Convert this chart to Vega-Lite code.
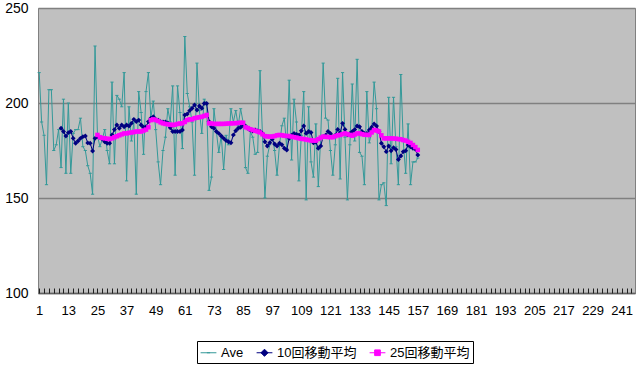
{
"$schema":"https://vega.github.io/schema/vega-lite/v6.json",
"width":597,"height":285,
"autosize":{"type":"none"},
"padding":{"left":38,"top":8,"right":5,"bottom":76},
"background":"white",
"config":{"view":{"fill":"#C0C0C0","stroke":"#808080","strokeWidth":1},"font":"Liberation Sans, Arial, Noto Sans CJK JP"},
"data":{"values":[
{"i":1,"a":216},{"i":2,"a":190},{"i":3,"a":183},{"i":4,"a":157},{"i":5,"a":207},{"i":6,"a":207},{"i":7,"a":175},{"i":8,"a":178},{"i":9,"a":186},
{"i":10,"a":166,"b":186.7},{"i":11,"a":202,"b":185},{"i":12,"a":163,"b":182.6},{"i":13,"a":200,"b":184.4},{"i":14,"a":163,"b":185},{"i":15,"a":184,"b":181.4},{"i":16,"a":186,"b":178.8},{"i":17,"a":186,"b":180},{"i":18,"a":192,"b":181.4},{"i":19,"a":177,"b":182.3},{"i":20,"a":175,"b":182.6},{"i":21,"a":167,"b":179},{"i":22,"a":163,"b":178.8},{"i":23,"a":152,"b":174.7},{"i":24,"a":230,"b":181.4},
{"i":25,"a":183,"b":182.3,"c":183.2},{"i":26,"a":177,"b":182,"c":182},{"i":27,"a":181,"b":181,"c":181.6},{"i":28,"a":186,"b":179.6,"c":181.4},{"i":29,"a":175,"b":178.8,"c":181.2},{"i":30,"a":168,"b":178.8,"c":181},
{"i":31,"a":211,"b":183.2,"c":181.4},{"i":32,"a":168,"b":186,"c":182},{"i":33,"a":204,"b":188.4,"c":182.5},{"i":34,"a":202,"b":186.7,"c":183},{"i":35,"a":198,"b":188.4,"c":183.5},{"i":36,"a":216,"b":187.5,"c":184},{"i":37,"a":159,"b":188.4,"c":184},{"i":38,"a":198,"b":187.9,"c":184.3},{"i":39,"a":180,"b":189.3,"c":184.5},{"i":40,"a":190,"b":191.4,"c":184.7},
{"i":41,"a":152,"b":190.2,"c":185},{"i":42,"a":206,"b":191,"c":185},{"i":43,"a":195,"b":188.4,"c":185},{"i":44,"a":173,"b":187.2,"c":185.5},{"i":45,"a":206,"b":187.5,"c":186},{"i":46,"a":216,"b":190.2,"c":187.2},{"i":47,"a":192,"b":192,"c":191},{"i":48,"a":201,"b":192.8,"c":191.4},{"i":49,"a":186,"b":191.4,"c":191},{"i":50,"a":169,"b":191,"c":190.5},
{"i":51,"a":157,"b":190.2,"c":189.8},{"i":52,"a":175,"b":190,"c":189.3},{"i":53,"a":182,"b":190,"c":189},{"i":54,"a":197,"b":189.5,"c":188.8},{"i":55,"a":190,"b":187,"c":188.6},{"i":56,"a":209,"b":185,"c":188.4},{"i":57,"a":162,"b":185,"c":188.6},{"i":58,"a":209,"b":185,"c":189},{"i":59,"a":195,"b":185,"c":189.2},{"i":60,"a":176,"b":185.8,"c":189.3},
{"i":61,"a":235,"b":193.7,"c":190},{"i":62,"a":205,"b":194.2,"c":191},{"i":63,"a":198,"b":196,"c":191.4},{"i":64,"a":190,"b":197.2,"c":191.4},{"i":65,"a":162,"b":199,"c":192},{"i":66,"a":221,"b":196.3,"c":192.3},{"i":67,"a":196,"b":198.4,"c":192.5},{"i":68,"a":184,"b":197.2,"c":192.8},{"i":69,"a":202,"b":199.8,"c":193.2},{"i":70,"a":199,"b":199.8,"c":193.7},
{"i":71,"a":154,"b":190.2,"c":189.3},{"i":72,"a":161,"b":187.5,"c":189.2},{"i":73,"a":197,"b":186.7,"c":189},{"i":74,"a":185,"b":185,"c":189},{"i":75,"a":174,"b":184,"c":189},{"i":76,"a":183,"b":182.6,"c":189},{"i":77,"a":165,"b":181.4,"c":189},{"i":78,"a":183,"b":180.2,"c":189.1},{"i":79,"a":178,"b":179.6,"c":189.2},{"i":80,"a":197,"b":179.1,"c":189.3},
{"i":81,"a":190,"b":183.2,"c":189.3},{"i":82,"a":196,"b":185.4,"c":189.4},{"i":83,"a":188,"b":186.7,"c":189.5},{"i":84,"a":197,"b":187.2,"c":189.6},{"i":85,"a":190,"b":188.4,"c":189.6},{"i":86,"a":166,"b":187.9,"c":187.2},{"i":87,"a":163,"b":186.7,"c":186.8},{"i":88,"a":185,"b":185.8,"c":186.2},{"i":89,"a":182,"b":185.3,"c":185.8},{"i":90,"a":173,"b":185.8,"c":185.4},
{"i":91,"a":174,"b":185.3,"c":185},{"i":92,"a":217,"b":185,"c":184.5},{"i":93,"a":183,"b":184,"c":183.5},{"i":94,"a":150,"b":179.6,"c":182.6},{"i":95,"a":172,"b":177.4,"c":182.4},{"i":96,"a":178,"b":179.1,"c":182.3},{"i":97,"a":183,"b":180.9,"c":182.3},{"i":98,"a":175,"b":178.4,"c":182.6},{"i":99,"a":162,"b":177.4,"c":183},{"i":100,"a":178,"b":178.8,"c":183.2},
{"i":101,"a":188,"b":178,"c":183},{"i":102,"a":192,"b":176.2,"c":182.8},{"i":103,"a":176,"b":175.3,"c":182.6},{"i":104,"a":212,"b":181.4,"c":182.6},{"i":105,"a":170,"b":183,"c":182.3},{"i":106,"a":202,"b":184,"c":182},{"i":107,"a":190,"b":183.5,"c":181.8},{"i":108,"a":159,"b":183,"c":181.4},{"i":109,"a":183,"b":185.4,"c":181.2},{"i":110,"a":206,"b":187.9,"c":181},
{"i":111,"a":149,"b":184,"c":180.8},{"i":112,"a":198,"b":185,"c":180.5},{"i":113,"a":169,"b":184.5,"c":180.3},{"i":114,"a":161,"b":179.1,"c":180.2},{"i":115,"a":189,"b":179.5,"c":180.2},{"i":116,"a":156,"b":176.2,"c":181},{"i":117,"a":182,"b":177.4,"c":181.8},{"i":118,"a":221,"b":182.3,"c":182.3},{"i":119,"a":192,"b":183,"c":182.2},{"i":120,"a":191,"b":185,"c":182.1},
{"i":121,"a":175,"b":184,"c":182},{"i":122,"a":162,"b":182.3,"c":182},{"i":123,"a":178,"b":183,"c":182.5},{"i":124,"a":213,"b":186.1,"c":183},{"i":125,"a":160,"b":184.4,"c":183.2},{"i":126,"a":216,"b":189.3,"c":183.6},{"i":127,"a":182,"b":186.1,"c":184},{"i":128,"a":149,"b":183.2,"c":183.6},{"i":129,"a":178,"b":184,"c":183.2},{"i":130,"a":210,"b":185,"c":182.8},
{"i":131,"a":180,"b":186,"c":183.4},{"i":132,"a":223,"b":187.9,"c":184},{"i":133,"a":174,"b":187.5,"c":184},{"i":134,"a":172,"b":185,"c":183.6},{"i":135,"a":157,"b":184,"c":183.3},{"i":136,"a":206,"b":184,"c":183.2},{"i":137,"a":179,"b":185.8,"c":183.2},{"i":138,"a":185,"b":187.2,"c":184.5},{"i":139,"a":211,"b":189,"c":185.8},{"i":140,"a":197,"b":187.9,"c":185.5},
{"i":141,"a":149,"b":185,"c":185},{"i":142,"a":157,"b":178.8,"c":183},{"i":143,"a":158,"b":177,"c":181.4},{"i":144,"a":146,"b":174.4,"c":181.4},{"i":145,"a":203,"b":177.4,"c":181.4},{"i":146,"a":168,"b":174.9,"c":181.4},{"i":147,"a":203,"b":176.5,"c":181.3},{"i":148,"a":177,"b":175.5,"c":181.2},{"i":149,"a":157,"b":170.3,"c":181},{"i":150,"a":215,"b":172.1,"c":180.9},
{"i":151,"a":180,"b":174.4,"c":180.5},{"i":152,"a":163,"b":174.9,"c":180.2},{"i":153,"a":189,"b":177.9,"c":179.6},{"i":154,"a":157,"b":177,"c":179},{"i":155,"a":169,"b":176.2,"c":177.9},{"i":156,"a":169,"b":175.6,"c":176.8},{"i":157,"a":171,"b":172.6,"c":175.3}
]},
"transform":[{"fold":["a","b","c"],"as":["s","v"]},{"filter":"isValid(datum.v)"}],
"encoding":{
"x":{"field":"i","type":"quantitative","scale":{"domain":[0.5,246.5],"nice":false,"zero":false},
"axis":{"title":null,"grid":false,"values":[1,13,25,37,49,61,73,85,97,109,121,133,145,157,169,181,193,205,217,229,241],
"labelOverlap":false,"labelFlush":false,"ticks":false,"domainColor":"#606060","domainWidth":1.5,"labelFontSize":13,"labelColor":"black","labelPadding":11,"labelFont":"Liberation Sans"}},
"y":{"field":"v","type":"quantitative","scale":{"domain":[100,250],"nice":false,"zero":false},
"axis":{"title":null,"values":[100,150,200,250],"grid":true,"gridColor":"#808080","gridWidth":1.5,"ticks":false,"domain":false,"labelFontSize":14,"labelColor":"black","labelPadding":10,"labelFont":"Liberation Sans"}},
"color":{"field":"s","type":"nominal","scale":{"domain":["a","b","c"],"range":["#339999","#000080","#FF00FF"]},
"legend":{"title":null,"orient":"none","legendX":159,"legendY":333,"direction":"horizontal","strokeColor":"#000000","padding":3,"labelFontSize":13,"labelColor":"black","labelFont":"Liberation Sans, Noto Sans CJK JP","symbolSize":250,"symbolStrokeWidth":1,"columnPadding":10,"labelOffset":4,
"symbolType":{"expr":"datum.value==='b' ? 'M-1,0H1M0,-0.45L0.45,0L0,0.45L-0.45,0Z' : datum.value==='c' ? 'M-1,0H1M-0.36,-0.36H0.36V0.36H-0.36Z' : 'M-1,0H1M-0.2,0H0.2'"},
"labelExpr":"datum.label==='a' ? 'Ave' : datum.label==='b' ? '10回移動平均' : '25回移動平均'",
"encode":{"symbols":{
"fill":{"scale":"color","field":"value"},"stroke":{"scale":"color","field":"value"},"strokeWidth":{"value":1},"opacity":{"value":1},"fillOpacity":{"value":1},"strokeOpacity":{"value":1}}}}
}},
"resolve":{"axis":{"x":"independent"}},
"layer":[
{"transform":[{"filter":"datum.s==='a'"}],"mark":{"type":"line","strokeWidth":1,"opacity":1}},
{"transform":[{"filter":"datum.s==='a'"}],"mark":{"type":"point","shape":"stroke","size":10,"strokeWidth":1,"filled":false,"opacity":1},
 "encoding":{"x":{"field":"i","type":"quantitative","axis":{"orient":"top","offset":-285,"title":null,"labels":false,"domain":false,"grid":false,"tickSize":5,"tickColor":"#202020","tickWidth":1,
 "values":[1,3,5,7,9,11,13,15,17,19,21,23,25,27,29,31,33,35,37,39,41,43,45,47,49,51,53,55,57,59,61,63,65,67,69,71,73,75,77,79,81,83,85,87,89,91,93,95,97,99,101,103,105,107,109,111,113,115,117,119,121,123,125,127,129,131,133,135,137,139,141,143,145,147,149,151,153,155,157,159,161,163,165,167,169,171,173,175,177,179,181,183,185,187,189,191,193,195,197,199,201,203,205,207,209,211,213,215,217,219,221,223,225,227,229,231,233,235,237,239,241,243,245]}}}},
{"encoding":{"x":{"field":"i","type":"quantitative","axis":null}},
 "layer":[
 {"transform":[{"filter":"datum.s==='b'"}],"mark":{"type":"line","strokeWidth":1,"opacity":1}},
 {"transform":[{"filter":"datum.s==='b'"}],"mark":{"type":"point","shape":"diamond","size":24,"filled":true,"opacity":1}},
 {"transform":[{"filter":"datum.s==='c'"}],"mark":{"type":"line","strokeWidth":1,"opacity":1}},
 {"transform":[{"filter":"datum.s==='c'"}],"mark":{"type":"point","shape":"square","size":20,"filled":true,"opacity":1}}
 ]}
]
}
